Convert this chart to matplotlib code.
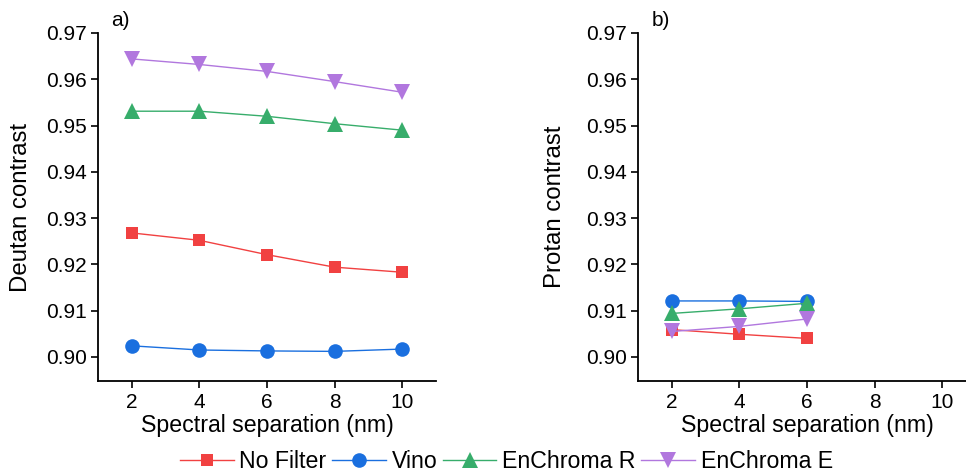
import matplotlib
matplotlib.use("Agg")
import matplotlib.pyplot as plt
from matplotlib.lines import Line2D

plt.rcParams['font.family'] = ['Liberation Sans', 'DejaVu Sans']

# spectral separation (nm)
sep_deutan = [2, 4, 6, 8, 10]
sep_protan = [2, 4, 6]

names = ['No Filter', 'Vino', 'EnChroma R', 'EnChroma E']
colors = ['#F14141', '#1A6FDF', '#37AD6B', '#B177DE']
markers = ['s', 'o', '^', 'v']
msizes = [8.7, 10.5, 12, 12]

deutan_nofilter = [0.9268, 0.9252, 0.9221, 0.9194, 0.9183]
deutan_vino = [0.9024, 0.9015, 0.9013, 0.9012, 0.9017]
deutan_enchroma_r = [0.9531, 0.9531, 0.9520, 0.9504, 0.9490]
deutan_enchroma_e = [0.9644, 0.9632, 0.9617, 0.9595, 0.9572]

protan_nofilter = [0.9059, 0.9049, 0.9040]
protan_vino = [0.9121, 0.9121, 0.9120]
protan_enchroma_r = [0.9094, 0.9104, 0.9116]
protan_enchroma_e = [0.9055, 0.9066, 0.9082]

deutan = [deutan_nofilter, deutan_vino, deutan_enchroma_r, deutan_enchroma_e]
protan = [protan_nofilter, protan_vino, protan_enchroma_r, protan_enchroma_e]

fig = plt.figure(figsize=(9.66, 4.74), dpi=100)
ax1 = fig.add_axes([98 / 966, 1 - 381 / 474, 338 / 966, 348 / 474])
ax2 = fig.add_axes([638 / 966, 1 - 381 / 474, 338 / 966, 348 / 474])

for ax, xs, data, ylab, tag, ylx in [(ax1, sep_deutan, deutan, 'Deutan contrast', 'a)', -0.195),
                                     (ax2, sep_protan, protan, 'Protan contrast', 'b)', -0.213)]:
    for ys, c, m, ms in zip(data, colors, markers, msizes):
        ax.plot(xs, ys, color=c, lw=1.0, marker=m, markersize=ms,
                markeredgewidth=0, clip_on=False)
    ax.set_xlim(1, 11)
    ax.set_ylim(0.8948, 0.97)
    ax.set_xticks([2, 4, 6, 8, 10])
    ax.set_yticks([0.90, 0.91, 0.92, 0.93, 0.94, 0.95, 0.96, 0.97])
    ax.set_yticklabels(['0.90', '0.91', '0.92', '0.93', '0.94', '0.95', '0.96', '0.97'])
    ax.spines['top'].set_visible(False)
    ax.spines['right'].set_visible(False)
    ax.spines['left'].set_linewidth(1.3)
    ax.spines['bottom'].set_linewidth(1.3)
    ax.tick_params(direction='out', length=5, width=1.2, labelsize=15, pad=3)
    ax.tick_params(axis='x', pad=4)
    ax.set_xlabel('Spectral separation (nm)', fontsize=16.7, labelpad=1)
    ax.set_ylabel(ylab, fontsize=17.3)
    ax.yaxis.set_label_coords(ylx, 0.5)
    ax.text(0.04, 1.01, tag, transform=ax.transAxes, fontsize=15, va='bottom')

handles = [Line2D([], [], color=c, lw=1.0, marker=m, markersize=ms, markeredgewidth=0)
           for c, m, ms in zip(colors, markers, msizes)]
fig.legend(handles, names, loc='center', bbox_to_anchor=(506.5 / 966, 1 - 462 / 474),
           ncol=4, frameon=False, fontsize=16.7, handlelength=2.3,
           handletextpad=0.25, columnspacing=0.25, borderaxespad=0)

fig.savefig('out.png', dpi=100)
